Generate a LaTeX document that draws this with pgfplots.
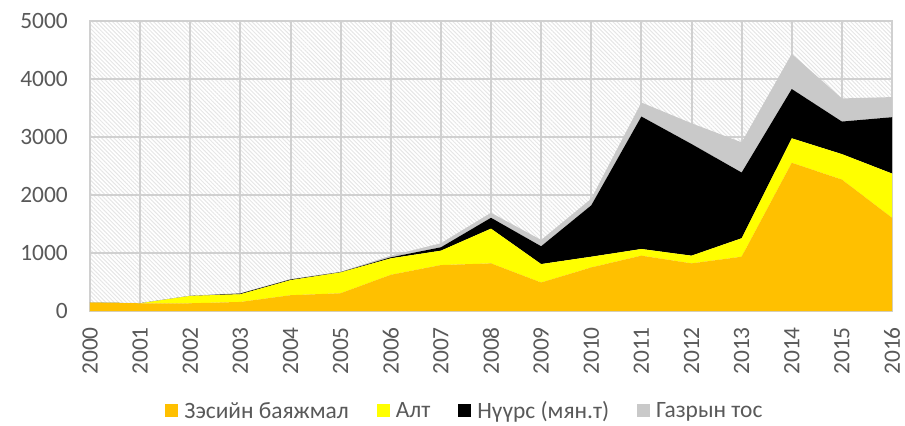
\documentclass[border=0pt]{standalone}
\usepackage{pgfplots}
\pgfplotsset{compat=1.18}
\usepackage{pgfplotstable}
\usepackage{fontspec}
\setmainfont{Carlito}
\usetikzlibrary{patterns.meta}
\definecolor{cu}{HTML}{FFC000}
\definecolor{au}{HTML}{FFFF00}
\definecolor{coal}{HTML}{000000}
\definecolor{oil}{HTML}{C9C9C9}
\definecolor{gridc}{HTML}{D0D0D0}
\definecolor{txt}{HTML}{595959}
\definecolor{hatch}{HTML}{E6E6E6}
\pgfplotstableread{
year copper gold coal oil
2000 145 0 0 5
2001 133 0 0 5
2002 133 127 0 5
2003 156 133 12 8
2004 272 260 11 8
2005 306 359 5 8
2006 624 284 17 29
2007 792 248 58 70
2008 821 599 187 87
2009 491 318 307 109
2010 751 185 885 115
2011 954 115 2284 242
2012 821 133 1925 358
2013 936 318 1133 521
2014 2555 422 850 607
2015 2266 439 561 399
2016 1607 763 971 347
}\datatable
\begin{document}
\begin{tikzpicture}
\begin{axis}[
  name=ax,
  scale only axis,
  width=802bp, height=290bp,
  xmin=2000, xmax=2016, ymin=0, ymax=5000,
  xtick={2000,2001,...,2016},
  ytick={0,1000,...,5000},
  stack plots=y,
  axis line style={gridc, line width=1.5bp},
  grid=major,
  major grid style={gridc, line width=2bp},
  major tick length=0pt,
  axis background/.style={pattern={Lines[angle=-45,distance=2.9bp,line width=1bp]}, pattern color=hatch},
  /pgf/number format/assume math mode=true,
  /pgf/number format/1000 sep={},
  tick label style={font=\fontsize{23.5}{28}\selectfont, text=txt, inner sep=0pt},
  xticklabel style={rotate=90, anchor=east},
  xticklabel shift=16bp,
  yticklabel shift=22bp,
  legend columns=4,
  legend style={draw=none, fill=none, at={(0.47,-0.345)}, anchor=center,
    font=\fontsize{23.5}{27}\selectfont, text=txt,
    /tikz/every even column/.append style={column sep=22bp},
    nodes={inner xsep=6bp, inner ysep=0pt}},
  legend image code/.code={\fill[#1] (0bp,-5.5bp) rectangle (13bp,7.5bp);},
]
\addplot[fill=cu, draw=none] table[x=year, y=copper] {\datatable} \closedcycle;
\addlegendentry{Зэсийн баяжмал}
\addplot[fill=au, draw=none] table[x=year, y=gold] {\datatable} \closedcycle;
\addlegendentry{Алт}
\addplot[fill=coal, draw=none] table[x=year, y=coal] {\datatable} \closedcycle;
\addlegendentry{Нүүрс (мян.т)}
\addplot[fill=oil, draw=none] table[x=year, y=oil] {\datatable} \closedcycle;
\addlegendentry{Газрын тос}
\end{axis}
\path ([xshift=-90bp,yshift=-115bp]ax.south west) rectangle ([xshift=13bp,yshift=21bp]ax.north east);
\end{tikzpicture}
\end{document}
